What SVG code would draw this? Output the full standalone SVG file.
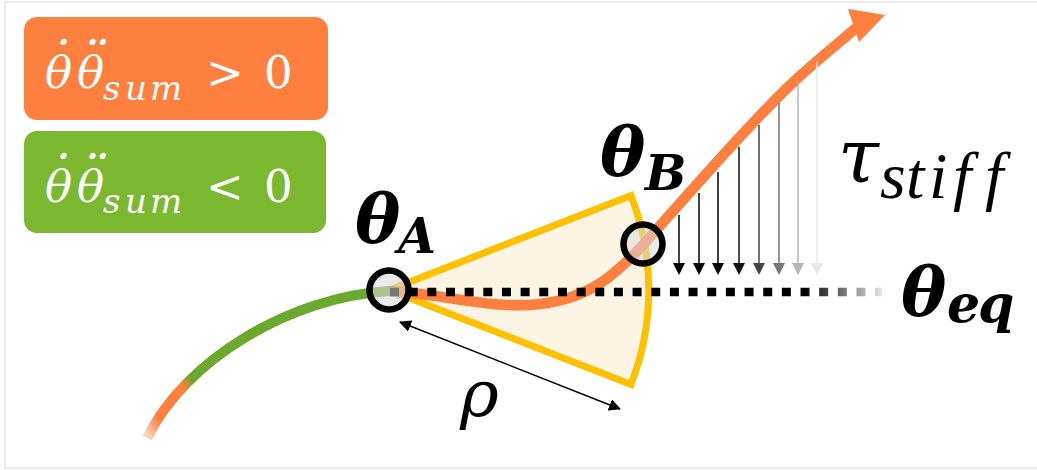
<svg xmlns="http://www.w3.org/2000/svg" width="1037" height="470" viewBox="0 0 1037 470">
<style>
.math{font-family:"DejaVu Serif","Liberation Serif",serif;font-style:italic}
.times{font-family:"Liberation Serif","DejaVu Serif",serif;font-style:italic}
.box-text{fill:#ffffff;font-size:45px}
.dot{font-size:54px}
.bold{font-weight:bold;fill:#000}
.node-ring{fill:#d9d9d9;fill-opacity:0.55;stroke:#000;stroke-width:6.5}
.thin{stroke-width:1.5;fill:none}
</style>
<defs>
<linearGradient id="gGreen" gradientUnits="userSpaceOnUse" x1="147" y1="438" x2="392" y2="290">
<stop offset="0" stop-color="#ffd9c4"/>
<stop offset="0.07" stop-color="#ff7f3f"/>
<stop offset="0.2" stop-color="#ff7f3f"/>
<stop offset="0.24" stop-color="#6aa92e"/>
<stop offset="0.97" stop-color="#6aa92e"/>
<stop offset="1" stop-color="#8a9c35"/>
</linearGradient>
<linearGradient id="gOrange" gradientUnits="userSpaceOnUse" x1="386" y1="0" x2="402" y2="0">
<stop offset="0" stop-color="#6aa92e"/>
<stop offset="1" stop-color="#ff7f3f"/>
</linearGradient>
<linearGradient id="gDots" gradientUnits="userSpaceOnUse" x1="805" y1="0" x2="882" y2="0">
<stop offset="0" stop-color="#000"/>
<stop offset="1" stop-color="#e6e6e6"/>
</linearGradient>
<marker id="tri" viewBox="0 0 12 12" refX="11" refY="6" markerWidth="12" markerHeight="12" markerUnits="userSpaceOnUse" orient="auto-start-reverse">
<path d="M0,0 L12,6 L0,12 Z" fill="#000"/>
</marker>
</defs>

<rect x="5" y="2" width="1040" height="466" fill="#fff" stroke="#e6e6e6" stroke-width="1.5"/>

<g id="legend-positive">
<rect x="24" y="17" width="304" height="103" rx="13" fill="#ff7f3f"/>
<text class="math box-text" y="88"><tspan x="45">θ</tspan><tspan class="dot" x="45" y="80">˙</tspan><tspan x="77" y="88">θ</tspan><tspan class="dot" x="79" y="80">¨</tspan><tspan x="103 125 150" y="100" font-size="34">sum</tspan><tspan x="206" y="88" font-style="normal">&gt;</tspan><tspan x="264" font-style="normal">0</tspan></text>
</g>

<g id="legend-negative">
<rect x="24" y="131" width="302" height="102" rx="13" fill="#7ab92f"/>
<text class="math box-text" y="202"><tspan x="45">θ</tspan><tspan class="dot" x="45" y="194">˙</tspan><tspan x="77" y="202">θ</tspan><tspan class="dot" x="79" y="194">¨</tspan><tspan x="103 125 150" y="213" font-size="34">sum</tspan><tspan x="206" y="202" font-style="normal">&lt;</tspan><tspan x="264" font-style="normal">0</tspan></text>
</g>

<g id="wedge">
<path d="M389,290 L631,195.5 A260,260 0 0 1 631,384.5 Z" fill="#fef4e4" stroke="#ffc000" stroke-width="7" stroke-linejoin="miter"/>
</g>

<g id="connectors">
<path id="trajectory-negative" d="M147,438 C185,360 290,297 389,291" fill="none" stroke="url(#gGreen)" stroke-width="10"/>
<path id="trajectory-positive" d="M388,291 C440,293 490,310 540,304 C590,298 615,275 643,245 C690,192 760,112 800,76 C820,58 835,46 856,28" fill="none" stroke="url(#gOrange)" stroke-width="10.5"/>
<path d="M885,15 L848,9 L853,24 L859,42 Z" fill="#ff7f3f"/>
<path id="theta-eq-line" d="M390,292 H882" fill="none" stroke="url(#gDots)" stroke-width="8.5" stroke-dasharray="9 9.66"/>
<path id="rho-arrow" d="M400,322 L620,409" class="thin" stroke="#000" marker-start="url(#tri)" marker-end="url(#tri)"/>
<g id="stiffness-arrows" stroke-width="1.5">
<line x1="679" y1="215" x2="679" y2="266" stroke="#000"/><path d="M673,263 L685,263 L679,275 Z" fill="#000"/>
<line x1="699" y1="193" x2="699" y2="266" stroke="#000"/><path d="M693,263 L705,263 L699,275 Z" fill="#000"/>
<line x1="718" y1="172" x2="718" y2="266" stroke="#000"/><path d="M712,263 L724,263 L718,275 Z" fill="#000"/>
<line x1="739" y1="147" x2="739" y2="266" stroke="#111"/><path d="M733,263 L745,263 L739,275 Z" fill="#111"/>
<line x1="759" y1="125" x2="759" y2="266" stroke="#444"/><path d="M753,263 L765,263 L759,275 Z" fill="#444"/>
<line x1="779" y1="103" x2="779" y2="266" stroke="#777"/><path d="M773,263 L785,263 L779,275 Z" fill="#777"/>
<line x1="798" y1="82" x2="798" y2="266" stroke="#b5b5b5"/><path d="M792,263 L804,263 L798,275 Z" fill="#b5b5b5"/>
<line x1="817" y1="62" x2="817" y2="266" stroke="#e8e8e8"/><path d="M811,263 L823,263 L817,275 Z" fill="#e8e8e8"/>
</g>
</g>

<g id="node-theta-A">
<circle class="node-ring" cx="389" cy="290" r="19.5"/>
<text class="math bold" x="355" y="242" font-size="68">θ<tspan x="398" y="253" font-size="49">A</tspan></text>
</g>

<g id="node-theta-B">
<circle class="node-ring" cx="643" cy="244" r="19.5"/>
<text class="math bold" x="600" y="175" font-size="68">θ<tspan x="645" y="190" font-size="49">B</tspan></text>
</g>

<g id="label-theta-eq">
<text class="math bold" x="901" y="315" font-size="68">θ<tspan x="947 978" y="322" font-size="52">eq</tspan></text>
</g>

<g id="label-tau">
<text class="math" x="838" y="182" font-size="74" fill="#000">τ<tspan class="times" x="880 906 929 953 985" y="198" font-size="66">stiff</tspan></text>
</g>

<g id="label-rho">
<text class="math" x="460" y="416" font-size="66" fill="#000">ρ</text>
</g>
</svg>
